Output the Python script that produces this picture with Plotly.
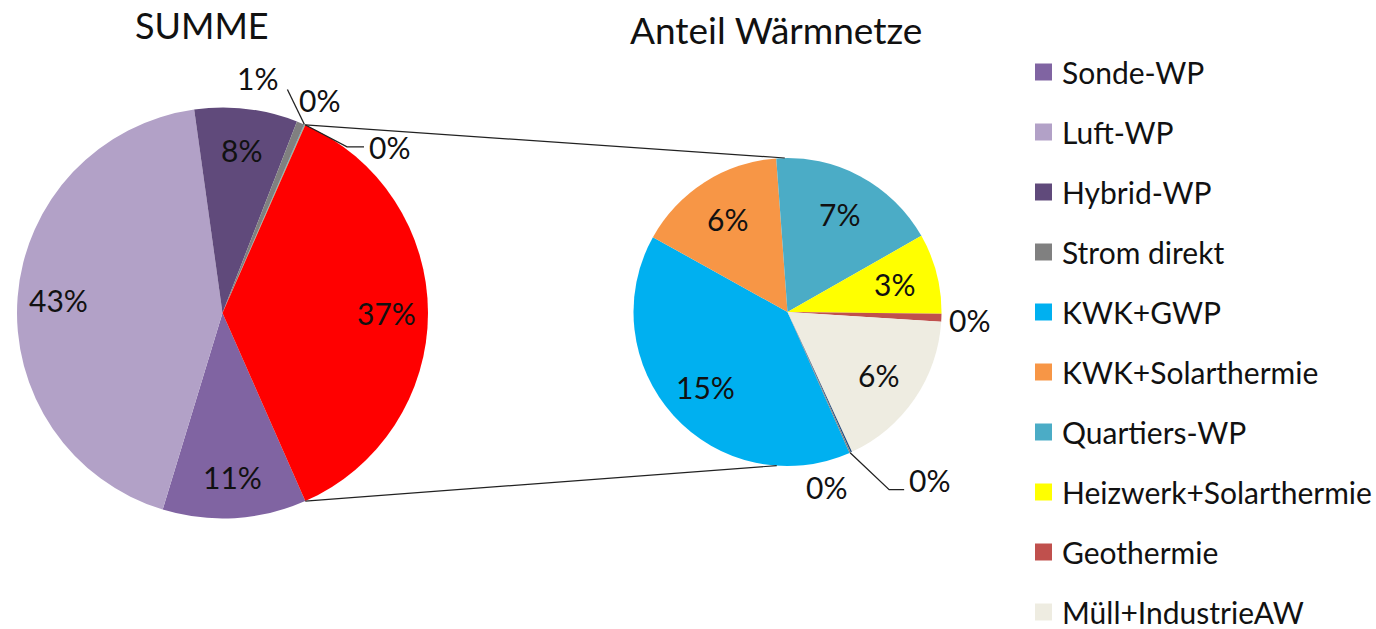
import math
import plotly.graph_objects as go

# ---------------------------------------------------------------------------
# Data (shares of total heat supply, in %)
# ---------------------------------------------------------------------------
main_labels = ["Sonde-WP", "Luft-WP", "Hybrid-WP", "Strom direkt", "Rest A", "Rest B"]
main_values = [11.3, 43.1, 8.1, 0.6, 0.05, 0.05]

net_labels = ["KWK+GWP", "KWK+Solarthermie", "Quartiers-WP", "Heizwerk+Solarthermie",
              "Geothermie", "Müll+IndustrieAW", "Rest C", "Rest D"]
net_values = [14.6, 5.8, 6.6, 3.1, 0.3, 6.3, 0.05, 0.05]

net_total_label = "Wärmenetze"
legend_labels = ["Sonde-WP", "Luft-WP", "Hybrid-WP", "Strom direkt", "KWK+GWP",
                 "KWK+Solarthermie", "Quartiers-WP", "Heizwerk+Solarthermie",
                 "Geothermie", "Müll+IndustrieAW"]

titles = ["SUMME", "Anteil Wärmnetze"]

# ---------------------------------------------------------------------------
# Styling
# ---------------------------------------------------------------------------
colors = {
    "Sonde-WP": "#8064A2",
    "Luft-WP": "#B2A1C7",
    "Hybrid-WP": "#604A7B",
    "Strom direkt": "#808080",
    "Rest A": "#4F81BD",
    "Rest B": "#9BBB59",
    "Wärmenetze": "#FF0000",
    "KWK+GWP": "#00B0F0",
    "KWK+Solarthermie": "#F79646",
    "Quartiers-WP": "#4BACC6",
    "Heizwerk+Solarthermie": "#FFFF00",
    "Geothermie": "#C0504D",
    "Müll+IndustrieAW": "#EEECE1",
    "Rest C": "#1F497D",
    "Rest D": "#7F7F7F",
}

W, H = 1376, 629
FONT = "Lato, 'Open Sans', sans-serif"
LABEL_SIZE = 30
TEXT_COLOR = "#111111"

# pie geometry in pixels (centre x, centre y, radius)
LEFT = (222.5, 313.0, 205.5)
RIGHT = (787.5, 312.0, 154.0)

# legend block geometry in pixels
LEG_X, LEG_Y0, LEG_STEP, LEG_BOX = 1035, 72, 60.0, 17


def px(x, y):
    return x / W, 1 - y / H


def domain(c):
    cx, cy, r = c
    return dict(x=[(cx - r) / W, (cx + r) / W], y=[1 - (cy + r) / H, 1 - (cy - r) / H])


def edge(c, ang, k=1.0):
    cx, cy, r = c
    a = math.radians(ang)
    return cx + k * r * math.sin(a), cy - k * r * math.cos(a)


left_labels = main_labels + [net_total_label]
left_values = main_values + [sum(net_values)]
grand_total = sum(left_values)

# the aggregated slice is centred at 3 o'clock; secondary pie starts at the same angle
other_deg = left_values[-1] / grand_total * 360
rotation = 90 + other_deg / 2


def slice_angles(values, rot):
    tot = sum(values)
    out = []
    a = rot
    for v in values:
        span = v / tot * 360
        out.append((a, a + span))
        a += span
    return out


left_ang = slice_angles(left_values, rotation)
right_ang = slice_angles(net_values, rotation)

fig = go.Figure()

fig.add_trace(go.Pie(
    labels=left_labels, values=left_values, sort=False, direction="clockwise",
    rotation=rotation, domain=domain(LEFT), textinfo="none", hoverinfo="label+percent",
    marker=dict(colors=[colors[l] for l in left_labels], line=dict(width=0)),
    showlegend=False,
))
fig.add_trace(go.Pie(
    labels=net_labels, values=net_values, sort=False, direction="clockwise",
    rotation=rotation, domain=domain(RIGHT), textinfo="none", hoverinfo="label+value",
    marker=dict(colors=[colors[l] for l in net_labels], line=dict(width=0)),
    showlegend=False,
))

annotations = []
shapes = []


def pct(v):
    return f"{round(v / grand_total * 100):.0f}%"


def add_text(x, y, text, xanchor="center", size=LABEL_SIZE):
    ax, ay = px(x, y)
    annotations.append(dict(x=ax, y=ay, xref="paper", yref="paper", text=text,
                            showarrow=False, xanchor=xanchor, yanchor="middle",
                            font=dict(family=FONT, size=size, color=TEXT_COLOR)))


def add_line(points, width=1.3):
    path = ""
    for i, (x, y) in enumerate(points):
        X, Y = px(x, y)
        path += ("M" if i == 0 else "L") + f"{X},{Y} "
    shapes.append(dict(type="path", path=path, xref="paper", yref="paper",
                       line=dict(color="#222222", width=width)))


# offsets (px) of small-slice labels from the slice's rim point
small_left = {
    "Strom direkt": dict(text=(-43, -45), anchor="center", leader=None),
    "Rest A": dict(text=(15, -25), anchor="center", leader=[(-17, -35)]),
    "Rest B": dict(text=(62, 22), anchor="left", leader=[(42, 22), (59, 22)]),
}
small_right = {
    "Geothermie": dict(text=(6, 2), anchor="left", leader=None),
    "Rest C": dict(text=(-25, 35), anchor="center", leader=None),
    "Rest D": dict(text=(57, 27), anchor="left", leader=[(39, 37), (54, 37)]),
}


def label_pie(c, labels, values, angles, frac, small):
    for lab, v, (a0, a1) in zip(labels, values, angles):
        mid = (a0 + a1) / 2
        if lab in small:
            s = small[lab]
            ex, ey = edge(c, mid)
            if s["leader"]:
                add_line([(ex, ey)] + [(ex + dx, ey + dy) for dx, dy in s["leader"]])
            add_text(ex + s["text"][0], ey + s["text"][1], pct(v), xanchor=s["anchor"])
        else:
            x, y = edge(c, mid, frac)
            add_text(x, y, pct(v))


label_pie(LEFT, left_labels, left_values, left_ang, 0.80, small_left)
label_pie(RIGHT, net_labels, net_values, right_ang, 0.72, small_right)

# connector lines from the aggregated slice to the secondary pie
add_line([edge(LEFT, left_ang[-1][0]), edge(RIGHT, -1)], width=1.2)
add_line([edge(LEFT, left_ang[-1][1]), edge(RIGHT, 184)], width=1.2)

# titles
add_text(202, 25, titles[0], size=36)
add_text(776, 30, titles[1], size=37)

# legend: colour square + category name per row
for i, name in enumerate(legend_labels):
    yc = LEG_Y0 + i * LEG_STEP
    x0, y0 = px(LEG_X, yc - LEG_BOX / 2)
    x1, y1 = px(LEG_X + LEG_BOX, yc + LEG_BOX / 2)
    shapes.append(dict(type="rect", xref="paper", yref="paper",
                       x0=x0, x1=x1, y0=y1, y1=y0,
                       fillcolor=colors[name], line=dict(width=0)))
    add_text(LEG_X + LEG_BOX + 8, yc, name, xanchor="left")

fig.update_layout(
    width=W, height=H,
    margin=dict(l=0, r=0, t=0, b=0),
    paper_bgcolor="white", plot_bgcolor="white",
    annotations=annotations, shapes=shapes,
    showlegend=False,
    font=dict(family=FONT),
)

fig.write_html("out.html")
